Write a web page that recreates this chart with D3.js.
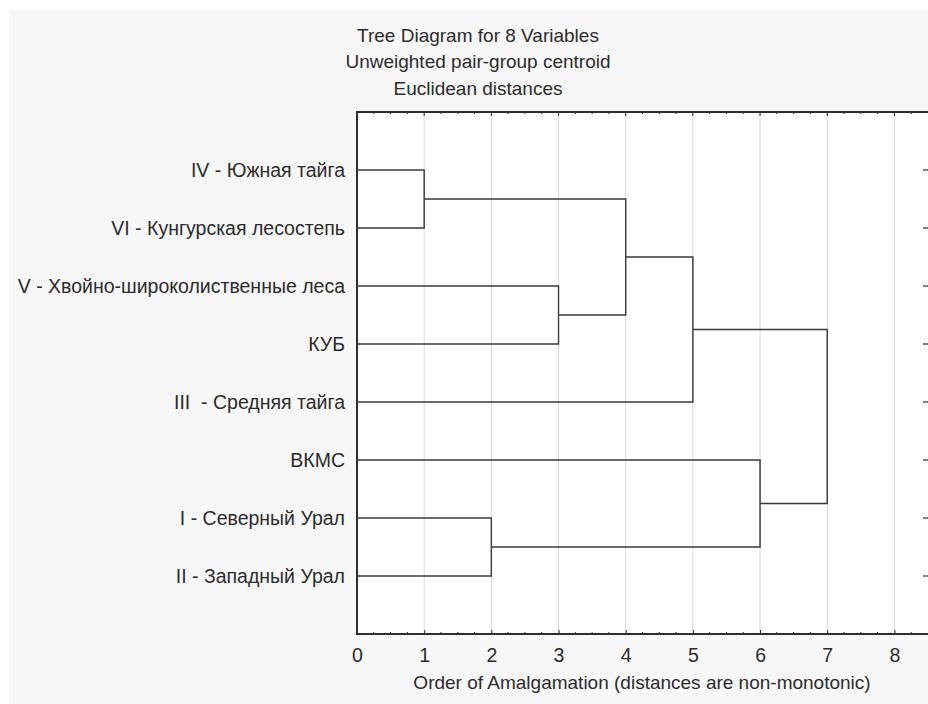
<!DOCTYPE html>
<html>
<head>
<meta charset="utf-8">
<script src="https://cdn.jsdelivr.net/npm/d3@7"></script>
<style>
  body { margin: 0; background: #fff; }
  svg { display: block; }
  text { white-space: pre; }
</style>
</head>
<body>
<svg id="chart"></svg>
<script>
// leaves, top to bottom
const leaves = ["IV - Южная тайга", "VI - Кунгурская лесостепь", "V - Хвойно-широколиственные леса",
  "КУБ", "III  - Средняя тайга", "ВКМС", "I - Северный Урал", "II - Западный Урал"];
// amalgamation steps: which two nodes join at which step
const joinA = ["IV - Южная тайга", "I - Северный Урал", "V - Хвойно-широколиственные леса", "c1", "c4", "ВКМС", "c5"];
const joinB = ["VI - Кунгурская лесостепь", "II - Западный Урал", "КУБ", "c3", "III  - Средняя тайга", "c2", "c6"];
const joinStep = [1, 2, 3, 4, 5, 6, 7];
const xTicks = [0, 1, 2, 3, 4, 5, 6, 7, 8];
const titleLines = ["Tree Diagram for 8 Variables", "Unweighted pair-group centroid", "Euclidean distances"];
const xTitle = "Order of Amalgamation (distances are non-monotonic)";

const width = 928, height = 704;
const font = "'Liberation Sans', Arial, sans-serif";
const ink = "#2c2c2c";

const svg = d3.select("#chart").attr("width", width).attr("height", height);

// page background (light grey with white strip on top/left)
svg.append("rect").attr("width", width).attr("height", height).attr("fill", "#fff");
svg.append("rect").attr("x", 9).attr("y", 10).attr("width", width).attr("height", height).attr("fill", "#f7f7f7");

const x = d3.scaleLinear().domain([0, 8.5]).range([357, 928]);
const y = d3.scaleLinear().domain([-1, 8]).range([112, 634]);

// plot area
svg.append("rect")
  .attr("x", x(0)).attr("y", y(-1))
  .attr("width", x(8.5) - x(0) + 2).attr("height", y(8) - y(-1))
  .attr("fill", "#fff");

// grid
svg.append("g").selectAll("line")
  .data(xTicks.filter(d => d > 0))
  .join("line")
    .attr("x1", d => x(d)).attr("x2", d => x(d))
    .attr("y1", y(-1)).attr("y2", y(8))
    .attr("stroke", "#d9d9d9").attr("stroke-width", 1);

// bottom axis
const xAxis = svg.append("g")
  .attr("transform", `translate(0,${y(8)})`)
  .call(d3.axisBottom(x).tickValues(xTicks).tickSize(-4).tickPadding(14).tickFormat(d3.format("d")));
xAxis.select(".domain").remove();
xAxis.selectAll("text").attr("font-family", font).attr("font-size", "19.5px").attr("fill", ink);
xAxis.selectAll("line").attr("stroke", ink);

const minor = d3.range(0, 8.5, 0.25).filter(d => d % 1 !== 0);
svg.append("g").selectAll("line").data(minor).join("line")
  .attr("x1", d => x(d)).attr("x2", d => x(d))
  .attr("y1", y(8)).attr("y2", y(8) - 2).attr("stroke", ink);
svg.append("g").selectAll("line").data(minor).join("line")
  .attr("x1", d => x(d)).attr("x2", d => x(d))
  .attr("y1", y(-1)).attr("y2", y(-1) + 2).attr("stroke", ink);
svg.append("g").selectAll("line").data(xTicks).join("line")
  .attr("x1", d => x(d)).attr("x2", d => x(d))
  .attr("y1", y(-1)).attr("y2", y(-1) + 4).attr("stroke", ink);

// right axis ticks
svg.append("g").selectAll("line").data(d3.range(leaves.length)).join("line")
  .attr("x1", x(8.5) - 5).attr("x2", x(8.5) + 2)
  .attr("y1", d => y(d)).attr("y2", d => y(d))
  .attr("stroke", ink).attr("stroke-width", 1.2);

// frame
svg.append("path")
  .attr("d", `M${x(8.5) + 2},${y(-1)}H${x(0)}V${y(8)}H${x(8.5) + 2}`)
  .attr("fill", "none").attr("stroke", "#2e2e2e").attr("stroke-width", 2);

// leaf labels
svg.append("g").selectAll("text").data(leaves).join("text")
  .attr("x", x(0) - 12).attr("y", (d, i) => y(i)).attr("dy", "0.35em")
  .attr("text-anchor", "end")
  .attr("font-family", font).attr("font-size", "19.5px").attr("fill", ink)
  .text(d => d);

// dendrogram
const nodes = {};
leaves.forEach((d, i) => { nodes[d] = { x: 0, y: i }; });
const links = [];
joinStep.forEach((s, i) => {
  const a = nodes[joinA[i]], b = nodes[joinB[i]];
  links.push([[a.x, a.y], [s, a.y], [s, b.y], [b.x, b.y]]);
  nodes["c" + s] = { x: s, y: (a.y + b.y) / 2 };
});
const line = d3.line().x(d => x(d[0])).y(d => y(d[1])).curve(d3.curveLinear);
svg.append("g").selectAll("path").data(links).join("path")
  .attr("d", line)
  .attr("fill", "none").attr("stroke", "#3a3a3a").attr("stroke-width", 1.4);

// titles
svg.append("g").selectAll("text").data(titleLines).join("text")
  .attr("x", 478).attr("y", (d, i) => 35 + i * 26.5).attr("dy", "0.35em")
  .attr("text-anchor", "middle")
  .attr("font-family", font).attr("font-size", "19px").attr("fill", ink)
  .text(d => d);

svg.append("text")
  .attr("x", 642).attr("y", 682).attr("dy", "0.35em")
  .attr("text-anchor", "middle")
  .attr("font-family", font).attr("font-size", "19px").attr("fill", ink)
  .text(xTitle);
</script>
</body>
</html>
